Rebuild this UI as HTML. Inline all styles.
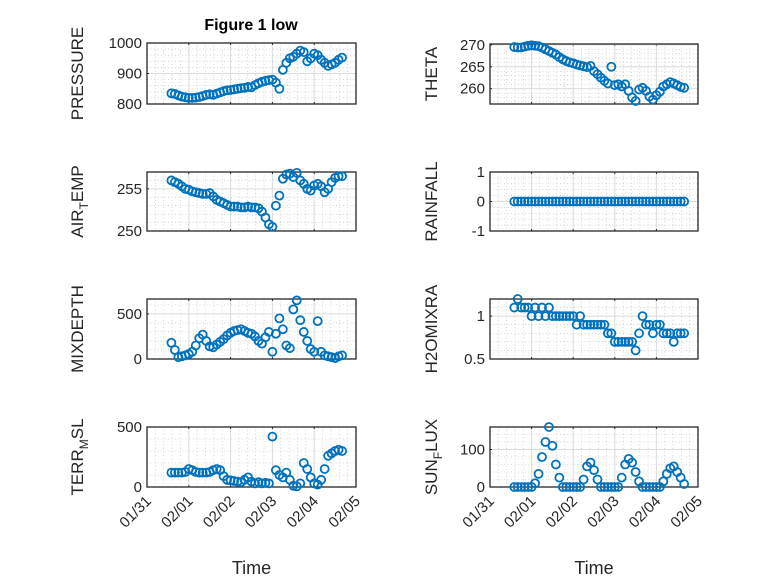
<!DOCTYPE html>
<html><head><meta charset="utf-8"><style>
body{margin:0;background:#fff;}
svg{display:block;font-family:"Liberation Sans","DejaVu Sans",sans-serif;}
</style></head><body>
<svg id="fig" width="778" height="583" viewBox="0 0 778 583">
<rect width="778" height="583" fill="#fff"/>
<text x="251" y="30" font-size="16" font-weight="bold" text-anchor="middle" fill="#000">Figure 1 low</text>
</svg>
<script>
const hours=[14,16,18,20,22,24,26,28,30,32,34,36,38,40,42,44,46,48,50,52,54,56,58,60,62,64,66,68,70,72,74,76,78,80,82,84,86,88,90,92,94,96,98,100,102,104,106,108,110,112];
const pressure=[835,833,828,824,822,820,820,821,823,826,830,832,830,834,838,842,845,846,848,850,852,853,856,855,862,868,873,876,878,880,870,850,912,935,950,955,965,975,970,940,950,965,960,945,935,925,930,935,945,952];
const theta=[269.5,269.4,269.4,269.6,269.8,269.9,269.8,269.7,269.4,269,268.6,268.2,267.8,267.2,266.7,266.3,266,265.8,265.5,265.3,265.1,264.9,265.2,264,263.3,262.5,261.8,261.2,265,260.8,261,260.5,261,259.5,258,257.2,259.8,260.2,259.5,258.2,257.5,258.5,259.3,260.5,261,261.5,261.2,260.8,260.4,260.2];
const airTemp=[256,255.8,255.6,255.3,255,254.9,254.7,254.6,254.5,254.4,254.4,254.5,254.1,253.7,253.5,253.3,253.1,252.9,252.9,252.9,252.8,252.8,252.9,252.8,252.8,252.7,252.3,251.6,250.8,250.5,253,254.2,256.2,256.7,256.8,256.4,256.9,256,255.6,255,254.8,255.4,255.6,255.3,254.6,255,255.8,256.3,256.5,256.5];
const rainfall=[0,0,0,0,0,0,0,0,0,0,0,0,0,0,0,0,0,0,0,0,0,0,0,0,0,0,0,0,0,0,0,0,0,0,0,0,0,0,0,0,0,0,0,0,0,0,0,0,0,0];
const mixDepth=[180,100,20,30,40,55,80,150,230,270,200,140,130,160,190,220,260,290,310,320,330,310,290,280,250,200,170,240,300,80,280,450,330,150,120,550,650,430,300,200,110,80,420,80,40,30,20,10,30,40];
const terrMsl=[120,120,120,120,125,150,140,125,120,120,120,125,140,150,140,90,60,55,50,45,40,60,80,45,30,40,30,35,30,420,140,100,80,120,60,10,5,30,200,150,80,30,20,60,150,260,280,300,310,300];
const h2o=[1.1,1.2,1.1,1.1,1.1,1,1.1,1,1.1,1,1.1,1,1,1,1,1,1,1,0.9,1,0.9,0.9,0.9,0.9,0.9,0.9,0.9,0.8,0.8,0.7,0.7,0.7,0.7,0.7,0.7,0.6,0.8,1,0.9,0.9,0.8,0.9,0.9,0.8,0.8,0.8,0.7,0.8,0.8,0.8];
const sunFlux=[0,0,0,0,0,0,10,35,80,120,160,110,60,25,0,0,0,0,0,0,20,55,65,45,20,0,0,0,0,0,0,25,60,75,65,40,15,0,0,0,0,0,0,15,35,50,55,40,25,8];
const xTicks=["01/31","02/01","02/02","02/03","02/04","02/05"];
const yTicksP=[800,900,1000],yTicksT=[260,265,270],yTicksA=[250,255],yTicksR=[-1,0,1],yTicksM=[0,500],yTicksS=[0,500],yTicksH=[0.5,1],yTicksF=[0,100];

const NS="http://www.w3.org/2000/svg";
const svg=document.getElementById('fig');
function mk(tag,attrs,parent){const e=document.createElementNS(NS,tag);for(const k in attrs)e.setAttribute(k,attrs[k]);(parent||svg).appendChild(e);return e;}
const panels=[
 {name:'pressure',label:'PRESSURE',x0:147,x1:356,y0:43,y1:104,min:800,max:1000,ticks:yTicksP,data:pressure,minor:20,xl:false},
 {name:'theta',label:'THETA',x0:490,x1:698,y0:44,y1:104,min:256.5,max:270.2,ticks:yTicksT,data:theta,minor:1,xl:false},
 {name:'air-temp',label:'AIR_TEMP',x0:147,x1:356,y0:172,y1:231,min:250,max:257,ticks:yTicksA,data:airTemp,minor:1,xl:false},
 {name:'rainfall',label:'RAINFALL',x0:490,x1:698,y0:172,y1:231,min:-1,max:1,ticks:yTicksR,data:rainfall,minor:0.2,xl:false},
 {name:'mixdepth',label:'MIXDEPTH',x0:147,x1:356,y0:299,y1:359,min:0,max:665,ticks:yTicksM,data:mixDepth,minor:100,xl:false},
 {name:'h2omixra',label:'H2OMIXRA',x0:490,x1:698,y0:299,y1:359,min:0.5,max:1.2,ticks:yTicksH,data:h2o,minor:0.1,xl:false},
 {name:'terr-msl',label:'TERR_MSL',x0:147,x1:356,y0:427,y1:487,min:0,max:500,ticks:yTicksS,data:terrMsl,minor:100,xl:true},
 {name:'sun-flux',label:'SUN_FLUX',x0:490,x1:698,y0:427,y1:487,min:0,max:160,ticks:yTicksF,data:sunFlux,minor:20,xl:true}
];
panels.forEach(p=>{
 const g=mk('g',{});
 
 
 const xs=d=>p.x0+(d/5)*(p.x1-p.x0);
 const ys=v=>p.y1-(v-p.min)/(p.max-p.min)*(p.y1-p.y0);
 mk('rect',{x:p.x0,y:p.y0,width:p.x1-p.x0,height:p.y1-p.y0,fill:'#fff'},g);
 for(let d=0;d<=5.001;d+=0.2){const x=xs(d);mk('line',{x1:x,x2:x,y1:p.y0,y2:p.y1,stroke:'#bbb','stroke-width':0.6,'stroke-dasharray':'1 2.5'},g);}
 const start=Math.ceil(p.min/p.minor)*p.minor;
 for(let v=start;v<=p.max+1e-9;v+=p.minor){const y=ys(v);mk('line',{x1:p.x0,x2:p.x1,y1:y,y2:y,stroke:'#bbb','stroke-width':0.6,'stroke-dasharray':'1 2.5'},g);}
 xTicks.forEach((t,i)=>{const x=xs(i);mk('line',{x1:x,x2:x,y1:p.y0,y2:p.y1,stroke:'#dcdcdc','stroke-width':1},g);
  mk('line',{x1:x,x2:x,y1:p.y1,y2:p.y1-2,stroke:'#262626'},g);mk('line',{x1:x,x2:x,y1:p.y0,y2:p.y0+2,stroke:'#262626'},g);
  if(p.xl){const tx=mk('text',{x:x+5,y:p.y1+15,'font-size':15,fill:'#262626','text-anchor':'end',transform:`rotate(-45 ${x+5} ${p.y1+15})`},g);tx.textContent=t;
   
   }
 });
 p.ticks.forEach(v=>{const y=ys(v);mk('line',{x1:p.x0,x2:p.x1,y1:y,y2:y,stroke:'#dcdcdc','stroke-width':1},g);
  mk('line',{x1:p.x0,x2:p.x0+2,y1:y,y2:y,stroke:'#262626'},g);
  const tx=mk('text',{x:p.x0-5,y:y+5,'font-size':15,fill:'#262626','text-anchor':'end'},g);tx.textContent=v;
  
  
 });
 mk('rect',{x:p.x0,y:p.y0,width:p.x1-p.x0,height:p.y1-p.y0,fill:'none',stroke:'#262626','stroke-width':1.3},g);
 p.data.forEach((v,i)=>{const c=mk('circle',{cx:xs(hours[i]/24),cy:ys(v),r:4,fill:'none',stroke:'#0072bd','stroke-width':1.8},g);
  
  });
 const lx=p.x0<400?83:437;
 const cy=(p.y0+p.y1)/2;
 const t=mk('text',{x:lx,y:cy,'font-size':17,fill:'#262626','text-anchor':'middle',transform:`rotate(-90 ${lx} ${cy})`},g);
 
 
 if(p.label.includes('_')){const [a,b]=p.label.split('_');t.textContent=a;const s=mk('tspan',{'font-size':12,dy:5},t);s.textContent=b[0];const r=mk('tspan',{dy:-5},t);r.textContent=b.slice(1);}
 else t.textContent=p.label;
 if(p.xl){const xt=mk('text',{x:(p.x0+p.x1)/2,y:574,'font-size':18,fill:'#262626','text-anchor':'middle'},g);xt.textContent='Time';
  
  }
});
</script>
</body></html>
